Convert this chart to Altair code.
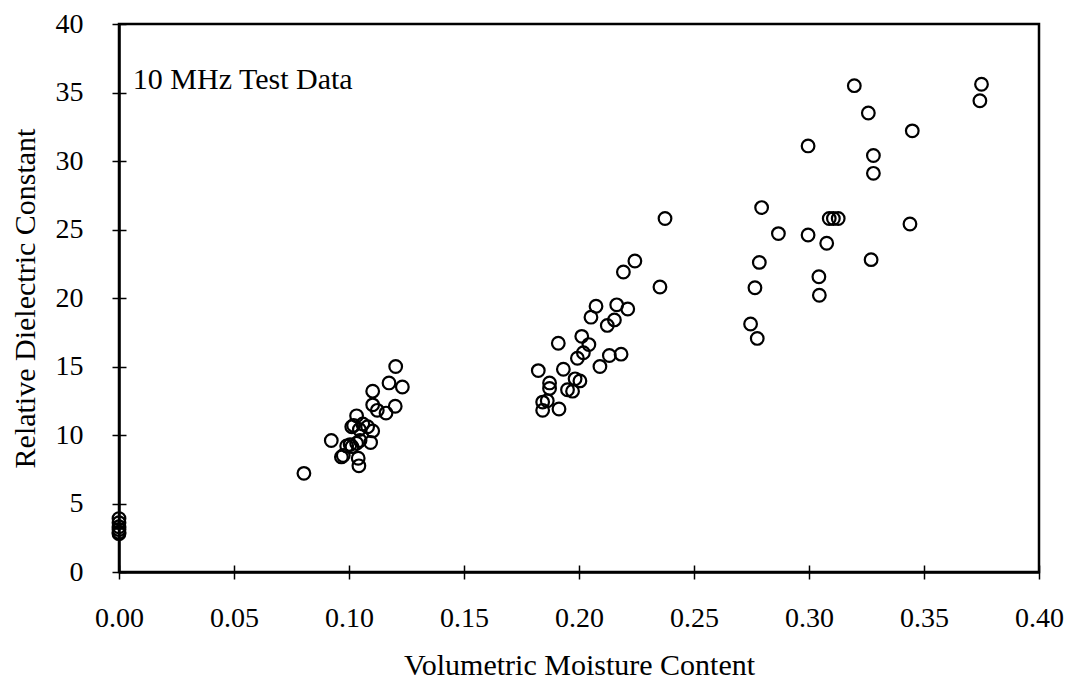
import altair as alt
import pandas as pd

moisture = [
    0.0, 0.0, 0.0, 0.0, 0.0, 0.0,
    0.0804, 0.0923, 0.0967, 0.0975, 0.0990, 0.1005, 0.1013, 0.1012, 0.1020,
    0.1033, 0.1045, 0.1033, 0.1040, 0.1043, 0.1081, 0.1103, 0.1094, 0.1103,
    0.1103, 0.1123, 0.1161, 0.1174, 0.1203, 0.1232, 0.1201, 0.1048, 0.1060,
    0.2374, 0.2243, 0.2193, 0.2352, 0.2074, 0.2164, 0.2212, 0.2052, 0.2154,
    0.2123, 0.2012, 0.2043, 0.2019, 0.1993, 0.1910, 0.2132, 0.2183, 0.2091,
    0.1823, 0.1932, 0.1872, 0.1872, 0.1983, 0.2004, 0.1950, 0.1972, 0.1842,
    0.1862, 0.1842, 0.1913,
    0.3197, 0.3750, 0.3743, 0.3258, 0.3449, 0.2996, 0.3280, 0.3280, 0.2794,
    0.3088, 0.3106, 0.3127, 0.3439, 0.2867, 0.2996, 0.3077, 0.2784, 0.3270,
    0.3043, 0.3045, 0.2765, 0.2746, 0.2775,
]
dielectric = [
    3.9, 3.6, 3.3, 3.1, 2.9, 2.8,
    7.2, 9.6, 8.4, 8.5, 9.2, 9.3, 9.15, 10.6, 10.7,
    11.4, 10.4, 9.4, 8.3, 7.75, 10.6, 10.3, 9.45, 13.2,
    12.2, 11.8, 11.6, 13.8, 15.0, 13.5, 12.1, 9.6, 10.8,
    25.8, 22.7, 21.9, 20.8, 19.4, 19.5, 19.2, 18.6, 18.4,
    18.0, 17.2, 16.6, 16.0, 15.6, 16.7, 15.8, 15.9, 15.0,
    14.7, 14.8, 13.8, 13.4, 14.1, 13.95, 13.3, 13.2, 12.4,
    12.5, 11.8, 11.9,
    35.5, 35.6, 34.4, 33.5, 32.2, 31.1, 30.4, 29.1, 26.6,
    25.8, 25.8, 25.8, 25.4, 24.7, 24.6, 24.0, 22.6, 22.8,
    21.55, 20.2, 20.75, 18.1, 17.05,
]

note_text = ["10 MHz Test Data"]
note_x = [0.006]
note_y = [35.9]

x_ticks = [0, 0.05, 0.10, 0.15, 0.20, 0.25, 0.30, 0.35, 0.40]
y_ticks = [0, 5, 10, 15, 20, 25, 30, 35, 40]

FONT = "Liberation Serif"

df = pd.DataFrame({"moisture": moisture, "dielectric": dielectric})
notes = pd.DataFrame({"moisture": note_x, "dielectric": note_y, "label": note_text})

xscale = alt.Scale(domain=[0, 0.40], nice=False, zero=True)
yscale = alt.Scale(domain=[0, 40], nice=False)

x_main = alt.Axis(
    values=x_ticks, format=".2f", grid=False, domainColor="black",
    domainWidth=2.5, tickColor="black", tickWidth=1.5, tickSize=7,
    labelFlush=False, labelOverlap=False,
    labelFont=FONT, labelFontSize=28, labelColor="black", labelPadding=25,
    title="Volumetric Moisture Content", titleFont=FONT, titleFontSize=30,
    titleFontWeight="normal", titleColor="black", titlePadding=18,
)
y_main = alt.Axis(
    values=y_ticks, grid=False, domainColor="black",
    domainWidth=2.5, tickColor="black", tickWidth=1.5, tickSize=7,
    labelFlush=False, labelOverlap=False,
    labelFont=FONT, labelFontSize=28, labelColor="black", labelPadding=29,
    title="Relative Dielectric Constant", titleFont=FONT, titleFontSize=30,
    titleFontWeight="normal", titleColor="black", titlePadding=15,
)
x_inner = alt.Axis(
    orient="bottom", values=x_ticks, grid=False, domain=False, labels=False,
    title=None, offset=-7, tickColor="black", tickWidth=1.5, tickSize=7,
)
y_inner = alt.Axis(
    orient="left", values=y_ticks, grid=False, domain=False, labels=False,
    title=None, offset=-7, tickColor="black", tickWidth=1.5, tickSize=7,
)

points = alt.Chart(df).mark_point(
    shape="circle", filled=False, color="black", size=160, strokeWidth=2.2,
    opacity=1,
).encode(
    x=alt.X("moisture:Q", scale=xscale, axis=x_main),
    y=alt.Y("dielectric:Q", scale=yscale, axis=y_main),
)

note = alt.Chart(notes).mark_text(
    align="left", baseline="middle", font=FONT, fontSize=30, color="black",
).encode(
    x=alt.X("moisture:Q", scale=xscale, axis=x_inner),
    y=alt.Y("dielectric:Q", scale=yscale, axis=y_inner),
    text="label:N",
)

chart = alt.layer(points, note).resolve_axis(
    x="independent", y="independent"
).properties(
    width=920, height=548,
    padding={"left": 119, "top": 24, "right": 34, "bottom": 111},
    autosize=alt.AutoSizeParams(type="none"),
    background="white",
).configure_view(
    stroke="black", strokeWidth=2.5,
)

chart.save("out.html", embed_options={"renderer": "svg", "actions": False})
